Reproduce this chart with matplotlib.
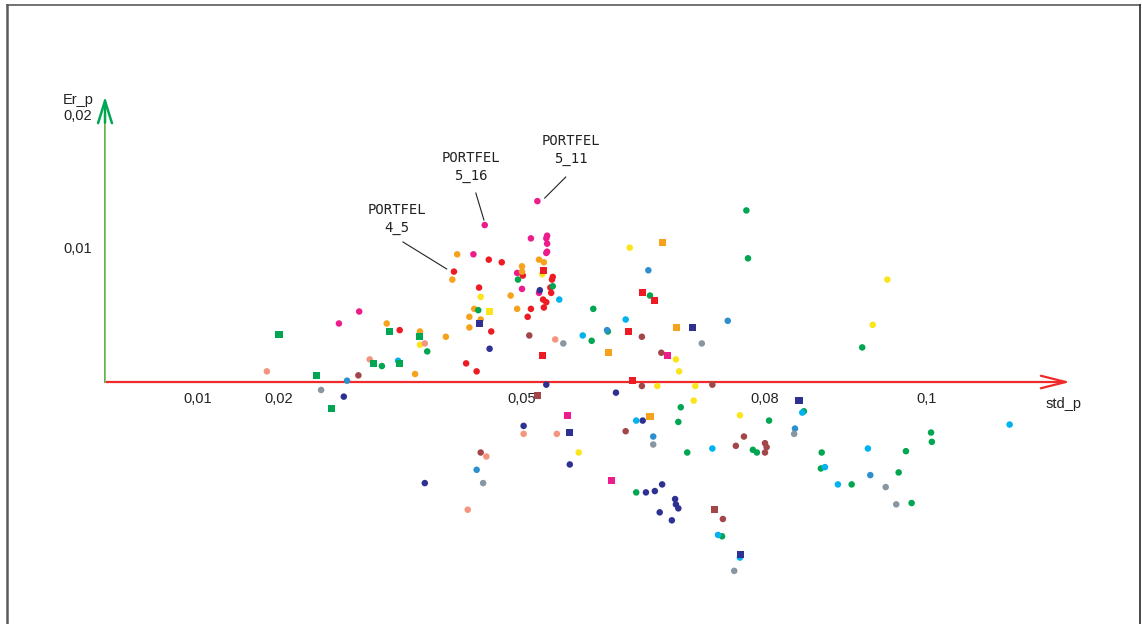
import matplotlib
matplotlib.use("Agg")
import matplotlib.pyplot as plt
from matplotlib.lines import Line2D

# ---- data (values in thousandths: 50.0 -> 0.050) ----
pink_std = [27.4, 29.9, 51.9, 45.4, 51.1, 53.1, 53.0, 53.1, 53.1, 53.0, 44.0, 49.4, 52.1, 50.0]
pink_er = [4.4, 5.3, 13.6, 11.8, 10.8, 11.0, 10.8, 10.4, 9.8, 9.7, 9.6, 8.2, 6.7, 7.0]
pink_sq_std = [68.0, 55.6, 61.0]
pink_sq_er = [2.0, -2.5, -7.4]

red_std = [34.9, 45.9, 47.5, 41.6, 50.1, 53.8, 53.7, 53.5, 53.6, 52.6, 53.0, 52.7, 44.7, 51.1, 50.7, 46.2, 43.1, 44.4]
red_er = [3.9, 9.2, 9.0, 8.3, 8.0, 7.9, 7.7, 7.1, 6.7, 6.2, 6.0, 5.6, 7.1, 5.5, 4.9, 3.8, 1.4, 0.8]
red_sq_std = [52.6, 64.9, 66.4, 63.2, 52.5, 63.6]
red_sq_er = [8.4, 6.7, 6.1, 3.8, 2.0, 0.1]

orange_std = [33.3, 37.4, 36.8, 42.0, 41.4, 52.1, 52.7, 50.0, 50.0, 48.6, 49.4, 44.1, 43.5, 44.9, 43.5, 40.6]
orange_er = [4.4, 3.8, 0.6, 9.6, 7.7, 9.2, 9.0, 8.7, 8.3, 6.5, 5.5, 5.5, 4.9, 4.7, 4.1, 3.4]
orange_sq_std = [67.4, 69.1, 60.7, 65.8]
orange_sq_er = [10.5, 4.1, 2.2, -2.6]

yellow_std = [37.4, 52.5, 44.9, 63.3, 69.0, 69.4, 95.1, 93.3, 66.7, 71.4, 71.2, 76.9, 57.0]
yellow_er = [2.8, 8.1, 6.4, 10.1, 1.7, 0.8, 7.7, 4.3, -0.3, -0.3, -1.4, -2.5, -5.3]
yellow_sq_std = [46.0]
yellow_sq_er = [5.3]

green_std = [32.7, 38.3, 49.5, 53.8, 44.6, 58.8, 58.6, 60.6, 65.8, 77.7, 77.9, 92.0, 69.6, 69.3, 70.4,
             80.5, 78.5, 79.0, 84.8, 87.0, 86.9, 90.7, 64.1, 74.7, 100.5, 100.6, 97.4, 96.5, 98.1]
green_er = [1.2, 2.3, 7.7, 7.2, 5.4, 5.5, 3.1, 3.8, 6.5, 12.9, 9.3, 2.6, -1.9, -3.0, -5.3,
            -2.9, -5.1, -5.3, -2.2, -5.3, -6.5, -7.7, -8.3, -11.6, -3.8, -4.5, -5.2, -6.8, -9.1]
green_sq_std = [20.0, 33.6, 37.4, 31.7, 34.9, 24.6, 26.5]
green_sq_er = [3.6, 3.8, 3.4, 1.4, 1.4, 0.5, -2.0]

navy_std = [28.0, 52.2, 46.0, 53.0, 61.6, 50.2, 55.9, 38.0, 64.9, 65.3, 66.4, 67.3, 68.9, 69.0, 69.3, 67.0, 68.5]
navy_er = [-1.1, 6.9, 2.5, -0.2, -0.8, -3.3, -6.2, -7.6, -2.9, -8.3, -8.2, -7.7, -8.8, -9.2, -9.5, -9.8, -10.4]
navy_sq_std = [44.8, 71.0, 55.9, 84.2, 77.0]
navy_sq_er = [4.4, 4.1, -3.8, -1.4, -13.0]

cyan_std = [34.7, 54.6, 57.5, 62.8, 64.1, 73.5, 84.6, 87.4, 89.0, 92.7, 74.2, 76.9, 110.2]
cyan_er = [1.6, 6.2, 3.5, 4.7, -2.9, -5.0, -2.3, -6.4, -7.7, -5.0, -11.5, -13.2, -3.2]

steel_std = [28.4, 60.5, 65.6, 75.4, 66.2, 83.7, 44.4, 93.0]
steel_er = [0.1, 3.9, 8.4, 4.6, -4.1, -3.5, -6.6, -7.0]

gray_std = [25.2, 55.1, 72.2, 66.2, 83.6, 45.2, 76.2, 94.9, 96.2]
gray_er = [-0.6, 2.9, 2.9, -4.7, -3.9, -7.6, -14.2, -7.9, -9.2]

salmon_std = [18.5, 31.2, 38.0, 54.1, 50.2, 54.3, 45.6, 43.3]
salmon_er = [0.8, 1.7, 2.9, 3.2, -3.9, -3.9, -5.6, -9.6]

brown_std = [29.8, 50.9, 64.8, 67.2, 64.8, 73.5, 62.8, 77.4, 76.4, 80.0, 80.2, 80.0, 44.9, 74.8]
brown_er = [0.5, 3.5, 3.4, 2.2, -0.3, -0.2, -3.7, -4.1, -4.8, -4.6, -4.9, -5.3, -5.3, -10.3]
brown_sq_std = [51.9, 73.8]
brown_sq_er = [-1.0, -9.6]

x_ticks = [0.01, 0.02, 0.05, 0.08, 0.1]
x_tick_labels = ["0,01", "0,02", "0,05", "0,08", "0,1"]
y_ticks = [0.01, 0.02]
y_tick_labels = ["0,01", "0,02"]

annotations = [  # label, text centre, leader start, leader end (data units)
    ("PORTFEL\n4_5", (0.0346, 0.01222), (0.0353, 0.01053), (0.0407, 0.00850)),
    ("PORTFEL\n5_16", (0.0437, 0.01620), (0.0443, 0.01421), (0.0453, 0.01218)),
    ("PORTFEL\n5_11", (0.0560, 0.01741), (0.0554, 0.01541), (0.0528, 0.01383)),
]

colors = {
    "pink": "#ec1c8c", "red": "#ed1c24", "orange": "#f7a21c", "yellow": "#fbe41a",
    "green": "#00a651", "navy": "#2e3192", "cyan": "#00b3ef", "steel": "#2e8fce",
    "gray": "#8896a2", "salmon": "#f4957f", "brown": "#a3464a",
}

circle_series = [
    ("pink", pink_std, pink_er), ("red", red_std, red_er), ("orange", orange_std, orange_er),
    ("yellow", yellow_std, yellow_er), ("green", green_std, green_er), ("navy", navy_std, navy_er),
    ("cyan", cyan_std, cyan_er), ("steel", steel_std, steel_er), ("gray", gray_std, gray_er),
    ("salmon", salmon_std, salmon_er), ("brown", brown_std, brown_er),
]
square_series = [
    ("pink", pink_sq_std, pink_sq_er), ("red", red_sq_std, red_sq_er),
    ("orange", orange_sq_std, orange_sq_er), ("yellow", yellow_sq_std, yellow_sq_er),
    ("green", green_sq_std, green_sq_er), ("navy", navy_sq_std, navy_sq_er),
    ("brown", brown_sq_std, brown_sq_er),
]

plt.rcParams['font.family'] = ['Liberation Sans', 'DejaVu Sans']

fig = plt.figure(figsize=(11.42, 6.24), dpi=100)
ax = fig.add_axes([0, 0, 1, 1])
ax.set_xlim(-0.014444, 0.126543)
ax.set_ylim(-0.018195, 0.028722)
ax.axis("off")

# frame
W, H = 1142, 624
fig.add_artist(Line2D([7 / W, 7 / W], [0, 1 - 5 / H], transform=fig.transFigure, color="#5a5a5a", lw=1.8))
fig.add_artist(Line2D([7 / W, 1140 / W], [1 - 5 / H, 1 - 5 / H], transform=fig.transFigure, color="#5a5a5a", lw=1.2))
fig.add_artist(Line2D([1140 / W, 1140 / W], [0, 1 - 5 / H], transform=fig.transFigure, color="#2a2a2a", lw=1.2))

# axes arrows
x0 = -0.00148
ax.annotate("", xy=(0.1177, 0), xytext=(x0, 0),
            arrowprops=dict(arrowstyle="->,head_length=1.8,head_width=0.45", color="#ee2a2a", lw=1.6,
                            shrinkA=0, shrinkB=0), zorder=1)
ax.plot([x0, x0], [0, 0.0212], color="#3fae6a", lw=1.3, zorder=1)
ax.plot([x0 - 0.00006, x0 - 0.00006], [0, 0.0210], color="#b7c640", lw=0.6, zorder=1)
ax.annotate("", xy=(x0, 0.02145), xytext=(x0, 0.0195),
            arrowprops=dict(arrowstyle="->,head_length=1.6,head_width=0.5", color="#00a651", lw=1.8,
                            shrinkA=0, shrinkB=0), zorder=1)

# tick labels
for v, lab in zip(x_ticks, x_tick_labels):
    ax.text(v, -0.00128, lab, ha="center", va="center", fontsize=10.5, color="#222222")
for v, lab in zip(y_ticks, y_tick_labels):
    ax.text(-0.00481, v, lab, ha="center", va="center", fontsize=10.5, color="#222222")
ax.text(-0.00481, 0.0212, "Er_p", ha="center", va="center", fontsize=10.5, color="#222222")
ax.text(0.1169, -0.00165, "std_p", ha="center", va="center", fontsize=10.5, color="#222222")

# points
for name, xs, ys in circle_series:
    ax.scatter([v / 1000 for v in xs], [v / 1000 for v in ys], s=22, marker="o",
               color=colors[name], edgecolors="none", zorder=3)
for name, xs, ys in square_series:
    ax.scatter([v / 1000 for v in xs], [v / 1000 for v in ys], s=26, marker="s",
               color=colors[name], edgecolors="none", zorder=3)

# annotations
for lab, txt, p0, p1 in annotations:
    ax.text(txt[0], txt[1], lab, ha="center", va="center", fontsize=10, family="DejaVu Sans Mono",
            linespacing=1.35, color="#222222")
    ax.plot([p0[0], p1[0]], [p0[1], p1[1]], color="#222222", lw=0.8)

fig.savefig("out.png", dpi=100)
